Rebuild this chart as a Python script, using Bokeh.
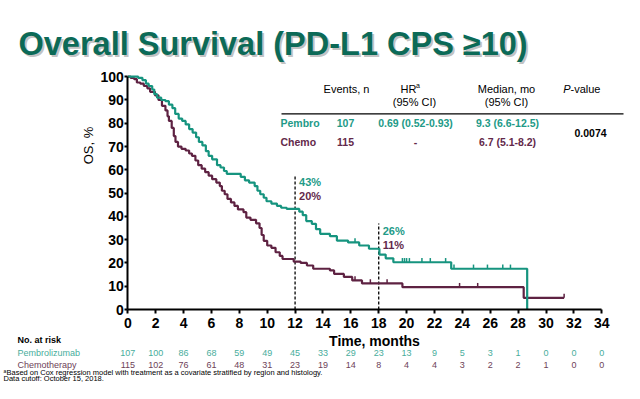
from bokeh.plotting import figure
from bokeh.models import Range1d, LinearAxis, FixedTicker, Label
from bokeh.core.properties import value
from bokeh.embed import file_html
from bokeh.resources import INLINE

# ---------------- data ----------------
pembro_t = [0, 0.75, 1.05, 1.3, 1.5, 1.75, 1.9, 2.1, 2.4, 2.7, 2.95, 3.2, 3.4, 3.65, 3.9,
            4.15, 4.4, 4.65, 4.9, 5.1, 5.35, 5.6, 5.8, 6.05, 6.4, 6.65, 6.9, 7.1, 8.1, 8.4,
            8.7, 9.1, 9.3, 9.5, 9.75, 9.95, 10.3, 10.7, 11.0, 11.4, 12.3, 12.55, 12.8, 13.2,
            13.5, 13.8, 14.5, 15.0, 15.8, 16.6, 17.3, 18.05, 18.5, 19.05, 23.2, 28.65]
pembro_s = [100, 99.5, 98.5, 97, 96, 94.5, 92.5, 91, 90, 89.5, 88, 86.5, 84, 82, 81,
            79.5, 77.5, 76, 74, 72, 70.5, 68, 66, 64.5, 62, 61, 59.5, 58.3, 57, 55.5,
            54.5, 53, 51, 49.5, 48, 46.5, 45.5, 44.5, 43.7, 43.2, 42, 40.5, 38, 36.8,
            34.5, 32.5, 31.5, 29.6, 28.8, 27.5, 26.1, 23.6, 22, 20.3, 17.5, 0]
chemo_t = [0, 0.2, 0.45, 0.65, 0.9, 1.15, 1.4, 1.6, 1.95, 2.2, 2.45, 2.7, 2.85, 2.95, 3.15,
           3.3, 3.42, 3.6, 3.85, 4.15, 4.4, 4.6, 4.85, 5.05, 5.3, 5.55, 5.8, 6.05, 6.35, 6.6,
           6.75, 6.95, 7.15, 7.4, 7.65, 7.9, 8.3, 8.5, 8.8, 9.2, 9.45, 9.6, 9.75, 10.0, 10.3,
           10.6, 10.9, 11.1, 11.9, 12.4, 12.85, 13.3, 14.5, 14.8, 15.5, 16.1, 16.8, 19.7,
           28.4, 31.3]
chemo_s = [100, 99.5, 99, 97.5, 97, 96, 95, 93.5, 92, 90, 87.5, 85.5, 83, 81, 78,
           74.5, 72, 70, 69, 68.3, 67, 66, 64, 62, 60.5, 59, 57.5, 56, 54.5, 53,
           51, 49.5, 47.5, 46, 44.5, 43, 41.8, 39.5, 38.5, 37, 35, 32, 29.5, 27.5, 26.5,
           24.6, 23, 21.7, 20.6, 20, 18.9, 17.5, 16.8, 15.3, 14, 12.5, 11.2, 9.6,
           5, 5]
pembro_censor = [16.3, 19.7, 19.85, 20.0, 20.2, 21.1, 21.7, 22.8, 23.4, 24.8, 25.8, 26.9, 27.45]
chemo_censor = [16.3, 17.4, 18.6, 23.8, 25.1, 31.3]

landmark_months = [12, 18]
landmark_pembro = ["43%", "26%"]
landmark_chemo = ["20%", "11%"]

risk_months = [0, 2, 4, 6, 8, 10, 12, 14, 16, 18, 20, 22, 24, 26, 28, 30, 32, 34]
pembro_risk = [107, 100, 86, 68, 59, 49, 45, 33, 29, 23, 13, 9, 5, 3, 1, 0, 0, 0]
chemo_risk = [115, 102, 76, 61, 48, 31, 23, 19, 14, 8, 4, 4, 3, 2, 2, 1, 0, 0]
os_ticks = [0, 10, 20, 30, 40, 50, 60, 70, 80, 90, 100]

table_rows = ["Pembro", "Chemo"]
table_events = ["107", "115"]
table_hr = ["0.69 (0.52-0.93)", "-"]
table_median = ["9.3 (6.6-12.5)", "6.7 (5.1-8.2)"]
table_p = "0.0074"

# ---------------- styles ----------------
TEAL = "#16947f"
MAROON = "#5e2242"
TEAL_TXT = "#229a87"
MAROON_TXT = "#63294a"
TEAL_RISK = "#48ad9c"
MAROON_RISK = "#6e4258"
TITLE_C = "#0c6a57"
FONT = "Liberation Sans"

W, H = 624, 383
PX_M = 13.94   # px per month
PX_P = 2.328   # px per percent
X0_PX, Y0_PX = 127.3, 309.0   # px of the origin


def dx(px):
    return (px - X0_PX) / PX_M


def dy(py):
    return (Y0_PX - py) / PX_P


def surv_at(ts, ss, t):
    s = ss[0]
    for ti, si in zip(ts, ss):
        if ti <= t:
            s = si
    return s


p = figure(width=W, height=H, x_range=Range1d(dx(0), dx(W)), y_range=Range1d(dy(H), dy(0)),
           x_axis_type=None, y_axis_type=None, toolbar_location=None, output_backend="svg",
           min_border=0, title=None)
p.outline_line_color = None
p.background_fill_color = "white"
p.border_fill_color = "white"

xa = LinearAxis(fixed_location=0, bounds=(0, 34), ticker=FixedTicker(ticks=risk_months))
ya = LinearAxis(fixed_location=0, bounds=(0, 100), ticker=FixedTicker(ticks=os_ticks))
for ax in (xa, ya):
    ax.axis_line_width = 2
    ax.axis_line_color = "black"
    ax.major_tick_line_width = 2
    ax.major_tick_line_color = "black"
    ax.major_tick_in = 0
    ax.minor_tick_out = 0
    ax.minor_tick_in = 0
    ax.major_label_text_font = FONT
    ax.major_label_text_font_style = "bold"
    ax.major_label_text_font_size = "14px"
    ax.major_label_text_color = "black"
xa.major_tick_out = 4
xa.major_label_standoff = 4
ya.major_tick_out = 3
ya.major_label_standoff = 1
p.add_layout(xa, "below")
p.add_layout(ya, "left")

# landmark dashed lines
p.segment(x0=landmark_months, y0=[0, 0], x1=landmark_months, y1=[dy(175), dy(223)],
          line_color="black", line_width=1.3, line_dash="3 2")

# curves
p.step(chemo_t, chemo_s, mode="after", line_color=MAROON, line_width=2.2)
p.step(pembro_t, pembro_s, mode="after", line_color=TEAL, line_width=2.2)

tick_h = 1.8
cy = [surv_at(chemo_t, chemo_s, t) for t in chemo_censor]
p.segment(x0=chemo_censor, y0=cy, x1=chemo_censor, y1=[v + tick_h for v in cy],
          line_color=MAROON, line_width=1.5)
py_ = [surv_at(pembro_t, pembro_s, t) for t in pembro_censor]
p.segment(x0=pembro_censor, y0=py_, x1=pembro_censor, y1=[v + tick_h for v in py_],
          line_color=TEAL, line_width=1.5)


def lab(x, y, text, size, color="black", style="normal", align="left", font=FONT, **kw):
    l = Label(x=x, y=y, text=text, text_font=font, text_font_size=size, text_color=color,
              text_font_style=style, text_align=align, text_baseline="middle", **kw)
    p.add_layout(l)
    return l


# landmark labels
for m, tp, tc, yp, yc in zip(landmark_months, landmark_pembro, landmark_chemo, [181.7, 230.7], [195, 244.3]):
    lab(m, dy(yp), tp, "11px", TEAL_TXT, "bold", x_offset=4)
    lab(m, dy(yc), tc, "11px", MAROON_TXT, "bold", x_offset=4)

# title with shadow
Label_kw = dict(text_font=FONT, text_font_size="32.5px", text_font_style="bold", text_baseline="alphabetic")
p.add_layout(Label(x=dx(18), y=dy(43.5), text="Overall Survival (PD-L1 CPS \u226510)", text_color="#9a9a9a",
                   text_alpha=0.6, x_offset=2, y_offset=-2, **Label_kw))
p.add_layout(Label(x=dx(18), y=dy(43.5), text="Overall Survival (PD-L1 CPS \u226510)", text_color=TITLE_C,
                   **Label_kw))

# axis titles
lab(dx(374), dy(340), "Time, months", "14px", "black", "bold", "center")
lab(dx(88), dy(145), "OS, %", "13px", "black", "normal", "center", angle=1.5708)

# summary table
lab(dx(346), dy(88.3), "Events, n", "11px", align="center")
lab(dx(408), dy(88.3), "HR", "11px", align="center")
lab(dx(415.5), dy(85), "a", "7px", align="left")
lab(dx(414), dy(101.7), "(95% CI)", "11px", align="center")
lab(dx(506), dy(88.3), "Median, mo", "11px", align="center")
lab(dx(506), dy(101.7), "(95% CI)", "11px", align="center")
lab(dx(570), dy(88.3), "P", "11px", style="italic", align="right")
lab(dx(570), dy(88.3), "-value", "11px", align="left")
p.segment(x0=[dx(281)], y0=[dy(113.3)], x1=[dx(623)], y1=[dy(113.3)], line_color="black", line_width=1.3)

for i, (yy, col) in enumerate(zip([122.3, 141], [TEAL_TXT, MAROON_TXT])):
    lab(dx(280), dy(yy), table_rows[i], "10.5px", col, "bold", "left")
    lab(dx(345), dy(yy), table_events[i], "10.5px", col, "bold", "center")
    lab(dx(415), dy(yy), table_hr[i], "10.5px", col, "bold", "center")
    lab(dx(507), dy(yy), table_median[i], "10.5px", col, "bold", "center")
lab(dx(590), dy(132.7), table_p, "10.5px", "black", "bold", "center")

# number at risk
RISK_Y1, RISK_Y2 = 352.5, 364.5
lab(dx(17), dy(339.3), "No. at risk", "9px", "black", "bold", "left")
lab(dx(17), dy(RISK_Y1), "Pembrolizumab", "9px", TEAL_RISK, "normal", "left")
lab(dx(17), dy(RISK_Y2), "Chemotherapy", "9px", MAROON_RISK, "normal", "left")
p.text(x=risk_months, y=[dy(RISK_Y1)] * len(risk_months), text=[str(v) for v in pembro_risk],
       text_font=value(FONT), text_font_size="9px", text_color=TEAL_RISK,
       text_align="center", text_baseline="middle")
p.text(x=risk_months, y=[dy(RISK_Y2)] * len(risk_months), text=[str(v) for v in chemo_risk],
       text_font=value(FONT), text_font_size="9px", text_color=MAROON_RISK,
       text_align="center", text_baseline="middle")

# footnotes
lab(dx(3), dy(372.3), "a", "5px", y_offset=2)
lab(dx(6), dy(372.3), "Based on Cox regression model with treatment as a covariate stratified by region and histology.",
    "7.5px")
lab(dx(3), dy(378.3), "Data cutoff: October 15, 2018.", "7.5px")

open("out.html", "w").write(file_html(p, INLINE))
